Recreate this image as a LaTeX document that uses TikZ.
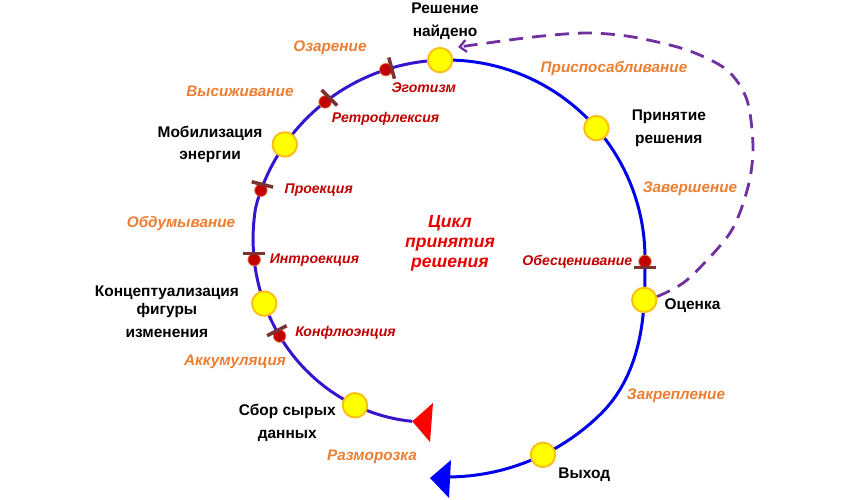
\documentclass[tikz,border=0pt]{standalone}
\usepackage{fontspec}
\setmainfont{Liberation Sans}
\usetikzlibrary{positioning, arrows.meta, backgrounds}
\definecolor{cycleviolet}{RGB}{55, 20, 205}
\definecolor{cycleblue}{RGB}{0, 0, 235}
\definecolor{stationfill}{RGB}{255, 255, 0}
\definecolor{stationrim}{RGB}{250, 190, 20}
\definecolor{blockfill}{RGB}{195, 0, 0}
\definecolor{blockrim}{RGB}{230, 120, 60}
\definecolor{barbrown}{RGB}{125, 50, 50}
\definecolor{phaseorange}{RGB}{237, 125, 49}
\definecolor{defencered}{RGB}{192, 0, 0}
\definecolor{titlered}{RGB}{230, 0, 0}
\definecolor{feedbackpurple}{RGB}{112, 48, 160}
\definecolor{startred}{RGB}{255, 0, 0}
\definecolor{endblue}{RGB}{0, 0, 255}
\tikzset{
  declare function={
    loopramp(\t)=min(1,max(0,-(\t)/45));
    looprad(\t)=198-31*max(0,((\t)-165)/93)+21*loopramp(\t)*loopramp(\t)*(3-2*loopramp(\t));
  },
  station/.style={
    circle,
    draw=stationrim,
    fill=stationfill,
    line width=1.1pt,
    minimum size=4.9mm,
    inner sep=0pt
  },
  blocker/.style={
    circle,
    draw=blockrim,
    fill=blockfill,
    line width=0.4pt,
    minimum size=2.5mm,
    inner sep=0pt
  },
  barline/.style={
    draw=barbrown,
    line width=2pt
  },
  cycleline/.style={
    line width=1.7pt,
    line join=round
  },
  stagelabel/.style={
    font=\fontsize{8.8}{13}\selectfont\bfseries,
    text=black,
    align=center,
    inner sep=1pt
  },
  phase/.style={
    font=\fontsize{8.7}{10}\selectfont\bfseries\itshape,
    text=phaseorange,
    inner sep=1pt
  },
  defence/.style={
    font=\fontsize{8}{9}\selectfont\bfseries\itshape,
    text=defencered,
    inner sep=1pt
  },
  cycletitle/.style={
    font=\fontsize{10}{11.5}\selectfont\bfseries\itshape,
    text=titlered,
    align=center
  },
  feedback/.style={
    draw=feedbackpurple,
    line width=1.6pt,
    dash pattern=on 2.8mm off 1.8mm,
    -{Straight Barb[length=1.3mm, width=2.4mm, line width=1.3pt]}
  }
}
\newcommand{\stopbar}[2]{%
  \draw[barline] ([shift={(#2:6)}]#1.center) ++(#2+90:11) -- ++(#2-90:22);}

\begin{document}
\begin{tikzpicture}[x=0.02cm, y=0.02cm]
  \useasboundingbox (0,0) rectangle (850,-500);

  \begin{scope}[shift={(447,-258)}]
    % stations of the cycle
    \node[station] (resh) at (92:{looprad(92)}) {};
    \node[station] (prin) at (41:{looprad(41)}) {};
    \node[station] (ocen) at (-12:{looprad(-12)}) {};
    \node[station] (vyh)  at (-64:{looprad(-64)}) {};
    \node[station] (sbor) at (238:{looprad(238)}) {};
    \node[station] (konc) at (194:{looprad(194)}) {};
    \node[station] (mob)  at (145:{looprad(145)}) {};

    % interruptions of contact
    \node[blocker] (ego)   at (108:{looprad(108)}) {};
    \node[blocker] (retro) at (128:{looprad(128)}) {};
    \node[blocker] (proj)  at (160:{looprad(160)}) {};
    \node[blocker] (intro) at (180.5:{looprad(180.5)}) {};
    \node[blocker] (konf)  at (205:{looprad(205)}) {};
    \node[blocker] (obes)  at (-1:{looprad(-1)}) {};

    % the cycle line
    \coordinate (cstart) at (258:{looprad(258)});
    \coordinate (cend) at (-90:{looprad(-90)});
    \begin{scope}[on background layer]
      \draw[cycleline, cycleviolet] plot[domain=258:92, samples=80, variable=\a] (\a:{looprad(\a)});
      \draw[cycleline, cycleblue] plot[domain=92:-90, samples=90, variable=\a] (\a:{looprad(\a)});
    \end{scope}
  \end{scope}
  \fill[startred] (cstart) -- (433,-403) -- (430,-442) -- cycle;
  \fill[endblue] (430,-478) -- (451,-460) -- (449,-498) -- cycle;

  % bars across the line
  \stopbar{ego}{15}
  \stopbar{retro}{45}
  \stopbar{proj}{76}
  \stopbar{intro}{90}
  \stopbar{konf}{117}
  \stopbar{obes}{-90}

  % feedback from evaluation
  \coordinate (fbend) at ([shift={(18,13)}]resh.center);
  \draw[feedback] plot[smooth] coordinates {(ocen.15) (687,-280) (730,-233) (748,-187)
    (753,-147) (747,-100) (727,-70) (687,-50) (633,-37) (587,-33) (533,-37) (fbend)};

  % station labels
  \node[stagelabel, above=0.1cm of resh, xshift=0.1cm] {Решение\\найдено};
  \node[stagelabel, right=0.4cm of prin] {Принятие\\решения};
  \node[stagelabel, right=0.1cm of ocen, yshift=-0.12cm] {Оценка};
  \node[stagelabel, below right=0.04cm and 0.08cm of vyh] {Выход};
  \node[stagelabel, left=0.08cm of sbor, yshift=-0.36cm] {Сбор сырых\\данных};
  \node[stagelabel, left=0.2cm of konc, yshift=-0.17cm] {Концептуализация\\[-2.8pt]фигуры\\изменения};
  \node[stagelabel, left=0.14cm of mob] {Мобилизация\\энергии};

  % interruption labels
  \node[defence, below right=0.12cm and -0.02cm of ego] {Эготизм};
  \node[defence, below right=0.08cm and 0cm of retro] {Ретрофлексия};
  \node[defence, right=0.3cm of proj] {Проекция};
  \node[defence, right=0.14cm of intro] {Интроекция};
  \node[defence, right=0.14cm of konf, yshift=0.06cm] {Конфлюэнция};
  \node[defence, left=0.08cm of obes] {Обесценивание};

  % phases
  \node[phase] at (330,-48) {Озарение};
  \node[phase] at (240,-91) {Высиживание};
  \node[phase] at (181,-223) {Обдумывание};
  \node[phase] at (235,-362) {Аккумуляция};
  \node[phase] at (372,-457) {Разморозка};
  \node[phase] at (676,-396) {Закрепление};
  \node[phase] at (690,-189) {Завершение};
  \node[phase] at (614,-68) {Приспосабливание};

  \node[cycletitle] at (450,-243) {Цикл\\принятия\\решения};
\end{tikzpicture}
\end{document}
